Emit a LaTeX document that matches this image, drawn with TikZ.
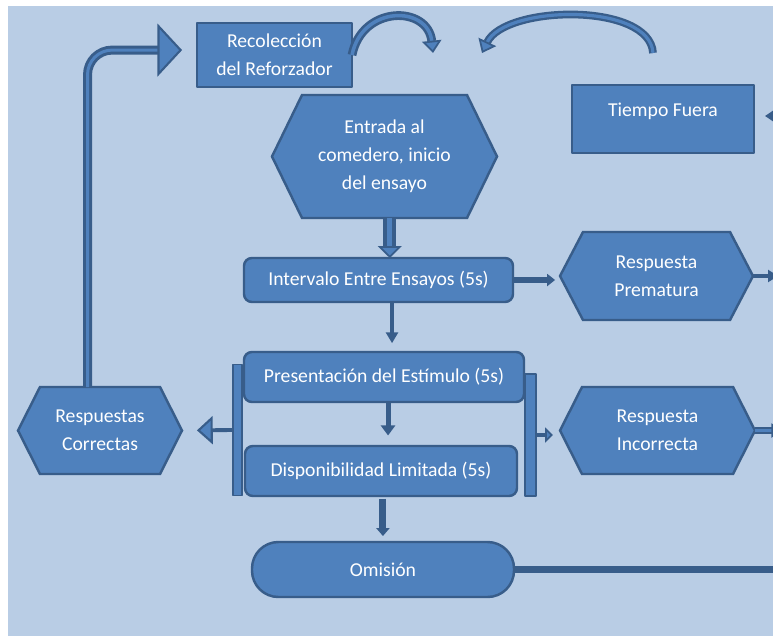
\documentclass[tikz,border=0pt]{standalone}
\usepackage{fontspec}
\setmainfont{Carlito}
\usetikzlibrary{arrows.meta}
\definecolor{fondo}{RGB}{185,205,229}
\definecolor{azul}{RGB}{79,129,189}
\definecolor{borde}{RGB}{56,93,138}
\newcommand{\upx}{0.02cm}
\pgfdeclarelayer{formas}
\pgfsetlayers{formas,main}

\begin{document}
\begin{tikzpicture}[x=0.02cm, y=-0.02cm, line join=round,
  font=\fontsize{11.2}{16}\selectfont]
  \tikzset{
    forma/.style={draw=borde, fill=azul, line width=1.4pt},
    caja/.style={forma, text=white, align=center, inner sep=0pt, outer sep=0pt},
    rectcaja/.style 2 args={caja, rectangle, minimum width=#1*\upx, minimum height=#2*\upx},
    redcaja/.style 2 args={rectcaja={#1}{#2}, rounded corners=4.5pt},
    hexcaja/.style 2 args={rectcaja={#1}{#2}, draw=none, fill=none},
    barra/.style 2 args={rectcaja={#1}{#2}, line width=1.1pt},
    flecha/.style={draw=borde, line width=2.8pt, -{Triangle[width=7pt,length=5.5pt]}},
    hueca/.style={draw=borde, line width=2.3pt, double=azul, double distance=2.8pt},
  }
  \useasboundingbox (0,0) rectangle (773,636);
  % cajas
  \node[rectcaja={155}{64}] (rec) at (274.5,55) {Recolección\\del Reforzador};
  \node[rectcaja={182}{68}, text height=17.6pt, text depth=21pt] (tiempo) at (663,119) {Tiempo Fuera};
  \node[hexcaja={225}{123}] (entrada) at (384.5,156.5) {Entrada al\\comedero, inicio\\del ensayo};
  \node[redcaja={269}{44}] (interv) at (378.5,280) {Intervalo Entre Ensayos (5s)};
  \node[hexcaja={193}{88}] (premat) at (656.5,276) {Respuesta\\Prematura};
  \node[redcaja={280}{50}] (present) at (384,377) {Presentación del Estímulo (5s)};
  \node[redcaja={272}{50}] (dispon) at (381,471) {Disponibilidad Limitada (5s)};
  \node[barra={9}{131}] (izq) at (237.5,430) {};
  \node[barra={11}{122}] (der) at (530.5,435) {};
  \node[hexcaja={164}{87}] (correc) at (100,430.5) {Respuestas\\Correctas};
  \node[hexcaja={195}{87}] (incorr) at (657.5,430.5) {Respuesta\\Incorrecta};
  \node[rectcaja={262}{55}, rounded corners=15pt] (omision) at (383,569.5) {Omisión};
  % fondo y hexagonos
  \begin{pgfonlayer}{formas}
    \fill[fondo] (8,6) rectangle (773,636);
    \foreach \n/\d in {entrada/30, premat/23, correc/22, incorr/22}
      \filldraw[forma] (\n.west) -- ([xshift=\d*\upx]\n.north west) -- ([xshift=-\d*\upx]\n.north east)
        -- (\n.east) -- ([xshift=-\d*\upx]\n.south east) -- ([xshift=\d*\upx]\n.south west) -- cycle;
  \end{pgfonlayer}
  % extremos libres
  \coordinate (arcoB) at (653,53);
  \coordinate (puntaA) at (433,53);
  \coordinate (puntaB) at (482,53);
  \coordinate (tfin) at (800,116);
  \coordinate (prout) at (778,276);
  \coordinate (incout) at (782,430.5);
  \coordinate (omout) at (790,569.5);
  % flechas
  \draw[hueca, line width=1.5pt, double distance=2pt, -{Triangle[width=11pt,length=7pt,fill=azul,line width=1pt]}]
    (rec.east) .. controls (362,5) and (428,5) .. (puntaA);
  \draw[hueca, line width=1.3pt, double distance=1.8pt, -{Triangle[width=11pt,length=7pt,fill=azul,line width=1pt]}]
    (arcoB) .. controls (650,2) and (505,5) .. (puntaB);
  \draw[flecha] (tfin) -- ([xshift=11*\upx,yshift=3*\upx]tiempo.east);
  \draw[hueca, -{Triangle[width=13.6pt,length=6.8pt,fill=azul,line width=1pt]}]
    ([xshift=3pt]entrada.south) -- ([xshift=3pt]entrada.south |- interv.north);
  \draw[flecha, line width=3.4pt, shorten >=2.8pt, -{Triangle[width=6.8pt,length=4.5pt]}]
    (interv.east) -- (interv.east -| premat.west);
  \draw[flecha, line width=2.8pt, -{Triangle[width=6.8pt,length=5.7pt]}] (premat.east) -- (prout);
  \draw[flecha, shorten >=5pt, -{Triangle[width=6.8pt,length=6.2pt]}]
    ([xshift=7.7pt]interv.south) -- ([xshift=7.7pt]interv.south |- present.north);
  \draw[flecha, shorten >=6pt, -{Triangle[width=8pt,length=5.7pt]}]
    ([xshift=2.3pt]present.south) -- ([xshift=2.3pt]present.south |- dispon.north);
  \draw[flecha, line width=4pt, shorten <=1.7pt, shorten >=3.4pt, -{Triangle[width=7.4pt,length=4.5pt]}]
    ([xshift=1.1pt]dispon.south) -- ([xshift=1.1pt]dispon.south |- omision.north);
  \draw[borde, line width=2.2pt, shorten >=8.5pt, -{Triangle[width=16pt,length=9pt,fill=azul,line width=1.2pt]}]
    (izq.west) -- (correc.east);
  \draw[borde, line width=2.2pt, shorten >=4pt, -{Triangle[width=8.5pt,length=4.5pt,fill=azul,line width=1pt]}]
    (der.east) -- (der.east -| incorr.west);
  \draw[hueca, line width=1.2pt, double distance=1.4pt, -{Triangle[width=8pt,length=6pt,fill=azul,line width=1pt]}]
    (incorr.east) -- (incout);
  \draw[borde, line width=3.8pt] (omision.east) -- (omout);
  \draw[hueca, line width=1.7pt, double distance=1.7pt, rounded corners=14pt,
    -{Triangle[width=30pt,length=14pt,fill=azul,line width=1.2pt]}]
    ([xshift=-7.1pt]correc.north) |- ([xshift=-8.5pt,yshift=2.8pt]rec.west);
\end{tikzpicture}
\end{document}
